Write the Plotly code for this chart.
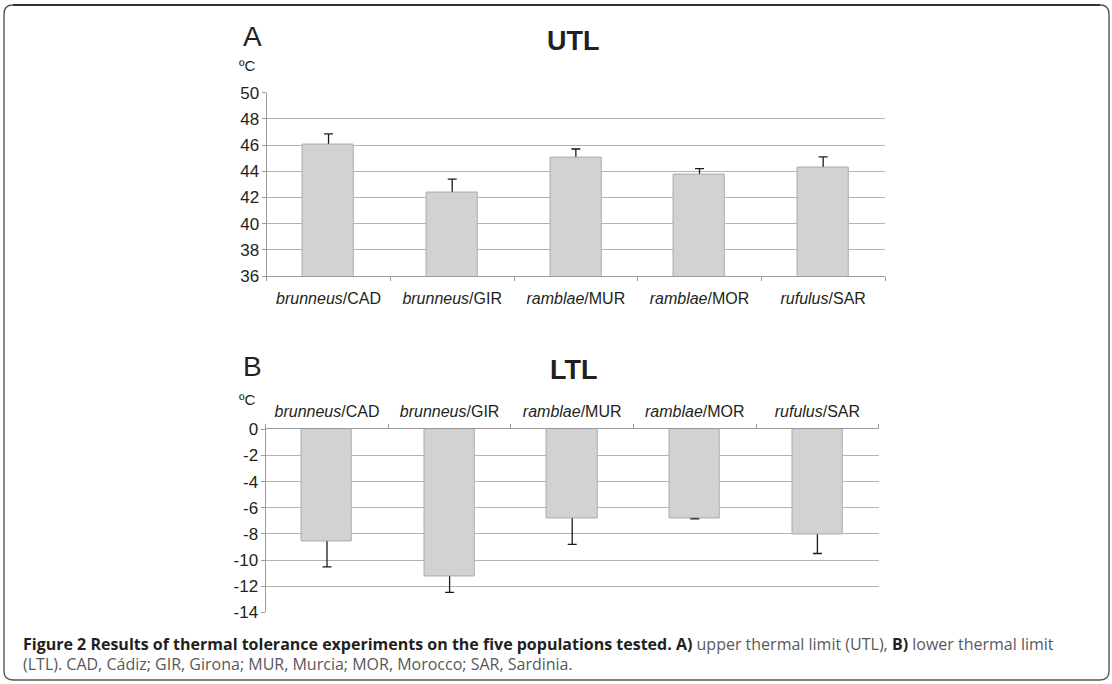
import plotly.graph_objects as go

# Populations (species / locality)
species = ["brunneus", "brunneus", "ramblae", "ramblae", "rufulus"]
sites = ["CAD", "GIR", "MUR", "MOR", "SAR"]
categories = [f"{s}/{c}" for s, c in zip(species, sites)]
tick_text = [f"<i>{s}</i>/{c}" for s, c in zip(species, sites)]

# Upper thermal limit (°C) and its error
utl_mean = [46.0, 42.35, 45.05, 43.7, 44.3]
utl_err = [0.85, 1.05, 0.65, 0.5, 0.8]

# Lower thermal limit (°C) and its error
ltl_mean = [-8.57, -11.22, -6.8, -6.8, -8.0]
ltl_err = [1.95, 1.25, 2.0, 0.05, 1.5]

utl_ticks = list(range(36, 51, 2))
ltl_ticks = list(range(-14, 1, 2))

W, H = 1112, 684
BAR_FILL = "#d1d2d4"
BAR_LINE = "#b4b5b7"
GRID = "#b3b3b3"
TEXT = "#231f20"
FONT = "Liberation Sans, Arial, sans-serif"


def px(x):
    return x / W


def py(y):
    return 1 - y / H


fig = go.Figure()


def add_panel(values, errors, xa, ya):
    # bars carrying the error whiskers, then the same bars redrawn on top so
    # only the outward half of each whisker stays visible
    fig.add_trace(go.Bar(
        x=categories, y=values, xaxis=xa, yaxis=ya, width=0.41,
        marker=dict(color=BAR_FILL, line=dict(color=BAR_LINE, width=1)),
        error_y=dict(type="data", array=errors, symmetric=True,
                     color="#1a1a1a", thickness=1.3, width=4.5),
        showlegend=False, hoverinfo="skip",
    ))
    fig.add_trace(go.Bar(
        x=categories, y=values, xaxis=xa, yaxis=ya, width=0.41,
        marker=dict(color=BAR_FILL, line=dict(color=BAR_LINE, width=1)),
        showlegend=False,
    ))


add_panel(utl_mean, utl_err, "x", "y")
add_panel(ltl_mean, ltl_err, "x2", "y2")

xcommon = dict(
    type="category", categoryorder="array", categoryarray=categories,
    tickmode="array", tickvals=categories, ticktext=tick_text,
    tickson="boundaries", ticks="outside", ticklen=4, tickcolor="#9a9a9a",
    showline=True, linecolor="#9a9a9a", linewidth=1.2, showgrid=False,
    tickfont=dict(family=FONT, size=16, color=TEXT), zeroline=False,
    automargin=False,
)
ycommon = dict(
    tickmode="array", ticks="outside", ticklen=4, tickcolor="#9a9a9a",
    showline=True, linecolor="#9a9a9a", linewidth=1.2,
    showgrid=True, gridcolor=GRID, gridwidth=1.4, zeroline=False,
    tickfont=dict(family=FONT, size=17, color=TEXT), ticklabelstandoff=-1,
    automargin=False,
)

fig.update_layout(
    width=W, height=H,
    margin=dict(l=0, r=0, t=0, b=0, pad=0, autoexpand=False),
    paper_bgcolor="white", plot_bgcolor="white",
    barmode="overlay", bargap=0,
    xaxis=dict(xcommon, domain=[px(266.7), px(885)], anchor="y",
               side="bottom", ticklabelstandoff=8),
    yaxis=dict(ycommon, domain=[py(276), py(92.7)], anchor="x",
               range=[36, 50], tickvals=utl_ticks,
               ticktext=[str(v) for v in utl_ticks]),
    xaxis2=dict(xcommon, domain=[px(265.7), px(878.7)], anchor="y2",
                side="top", ticklabelstandoff=5),
    yaxis2=dict(ycommon, domain=[py(612.3), py(429.3)], anchor="x2",
                range=[-14, 0], tickvals=ltl_ticks,
                ticktext=[str(v) for v in ltl_ticks]),
)

ann = []


def label(text, x, y, size, bold=False, xanchor="center", color=TEXT, family=FONT):
    ann.append(dict(
        text=f"<b>{text}</b>" if bold else text, x=px(x), y=py(y),
        xref="paper", yref="paper", xanchor=xanchor, yanchor="middle",
        showarrow=False, font=dict(family=family, size=size, color=color),
    ))


label("A", 252, 37, 28)
label("UTL", 573, 41, 27, bold=True)
label("ºC", 247, 66, 15)
label("B", 252, 366, 28)
label("LTL", 573, 370, 27, bold=True)
label("ºC", 247, 399, 15)

CAP_FONT = "Open Sans, sans-serif"
DARK = "color:#231f20"
cap1 = (f"<span style='{DARK}'><b>Figure 2 Results of thermal tolerance experiments "
        f"on the five populations tested. A)</b></span> upper thermal limit (UTL), "
        f"<span style='{DARK}'><b>B)</b></span> lower thermal limit")
cap2 = "(LTL). CAD, Cádiz; GIR, Girona; MUR, Murcia; MOR, Morocco; SAR, Sardinia."
for text, y in ((cap1, 644), (cap2, 664)):
    ann.append(dict(text=text, x=px(21), y=py(y), xref="paper", yref="paper",
                    xanchor="left", yanchor="middle", showarrow=False,
                    font=dict(family=CAP_FONT, size=16, color="#595959")))
fig.update_layout(annotations=ann)

# rounded frame around the whole figure
x0, x1, y0, y1, r = px(4), px(1109), py(680), py(5), 9
rx, ry = r / W, r / H
frame = (f"M {x0 + rx},{y1} L {x1 - rx},{y1} Q {x1},{y1} {x1},{y1 - ry} "
         f"L {x1},{y0 + ry} Q {x1},{y0} {x1 - rx},{y0} "
         f"L {x0 + rx},{y0} Q {x0},{y0} {x0},{y0 + ry} "
         f"L {x0},{y1 - ry} Q {x0},{y1} {x0 + rx},{y1} Z")
fig.add_shape(type="path", path=frame, xref="paper", yref="paper",
              line=dict(color="#555555", width=1.4))
fig.add_shape(type="line", x0=x0 + rx, x1=x1 - rx, y0=y1, y1=y1,
              xref="paper", yref="paper", line=dict(color="#333333", width=2))

fig.write_html("out.html")
